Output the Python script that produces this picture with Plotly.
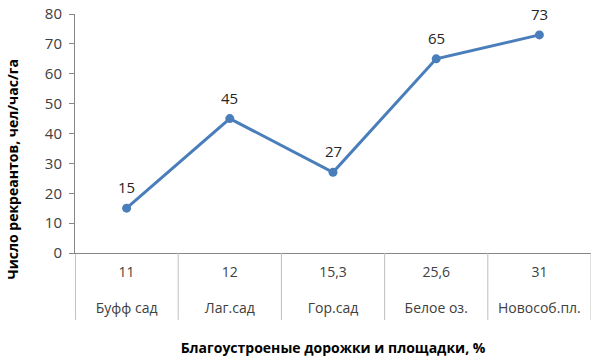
import plotly.graph_objects as go

percents = ["11", "12", "15,3", "25,6", "31"]
places = ["Буфф сад", "Лаг.сад", "Гор.сад", "Белое оз.", "Новособ.пл."]
values = [15, 45, 27, 65, 73]
y_ticks = [0, 10, 20, 30, 40, 50, 60, 70, 80]

FONT = "Open Sans"
LINE = "#4a7ebb"
AXIS = "#868686"
DIV = "#bfbfbf"

n = len(places)
xpos = list(range(n))
ticktext = [f"{p}<br><br>{c}" for p, c in zip(percents, places)]

fig = go.Figure()
fig.add_trace(go.Scatter(
    x=xpos, y=values,
    mode="lines+markers",
    line=dict(color=LINE, width=3),
    marker=dict(color=LINE, size=9),
    showlegend=False,
    hoverinfo="skip",
))
for xi, v in zip(xpos, values):
    fig.add_annotation(x=xi, y=v, text=str(v), showarrow=False, yshift=21,
                       font=dict(family=FONT, size=15, color="#262626"))

# category separators below the x axis
for k in range(n + 1):
    fig.add_shape(type="line", xref="x", yref="paper",
                  x0=k - 0.5, x1=k - 0.5, y0=0, y1=-0.28,
                  line=dict(color=AXIS if k == 0 else DIV, width=1))

# y axis title
fig.add_annotation(xref="paper", yref="paper", x=0, y=0.5, xshift=-63, yshift=-36,
                   text="<b>Число рекреантов, чел/час/га</b>", textangle=-90,
                   showarrow=False, xanchor="center", yanchor="middle",
                   font=dict(family=FONT, size=14, color="#000000"))

fig.update_layout(
    width=601, height=357,
    margin=dict(l=75, r=10, t=14, b=104),
    plot_bgcolor="white", paper_bgcolor="white",
    font=dict(family=FONT, size=13, color="#404040"),
)
fig.update_xaxes(
    range=[-0.5, n - 0.5], tickvals=xpos, ticktext=ticktext,
    showgrid=False, zeroline=False, automargin=False,
    showline=True, linecolor=AXIS, linewidth=1,
    ticks="", ticklabelstandoff=6,
    tickfont=dict(family=FONT, size=14, color="#404040"),
    title=dict(text="<b>Благоустроеные дорожки и площадки, %</b>",
               font=dict(family=FONT, size=14, color="#000000"), standoff=27),
)
fig.update_yaxes(
    range=[0, 80], tickvals=y_ticks,
    showgrid=False, zeroline=False, automargin=False,
    showline=True, linecolor=AXIS, linewidth=1,
    ticks="outside", ticklen=5, tickcolor=AXIS, ticklabelstandoff=4,
    tickfont=dict(family=FONT, size=15, color="#404040"),
)

fig.write_html("out.html", config={"displayModeBar": False},
               post_script="document.body.style.margin='0';")
